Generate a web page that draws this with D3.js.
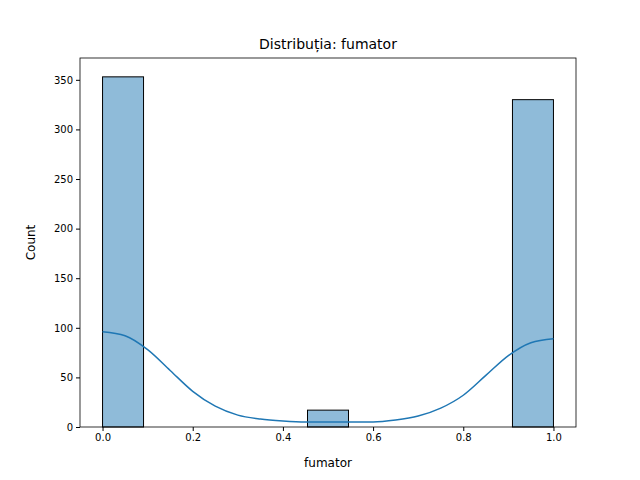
<!DOCTYPE html>
<html><head><meta charset="utf-8">
<script src="https://cdn.jsdelivr.net/npm/d3@7"></script>
<style>body{margin:0;background:#fff}text{font-family:"DejaVu Sans",sans-serif}</style>
</head><body>
<script>
// histogram bins (11 bins over 0..1) and counts
var binEdges = d3.range(12).map(function (i) { return i / 11; });
var counts = [353, 0, 0, 0, 0, 17, 0, 0, 0, 0, 330];
// kde curve
var kdeX = [0, .05, .1, .15, .2, .25, .3, .35, .4, .45, .5, .55, .6, .65, .7, .75, .8, .85, .9, .95, 1];
var kdeY = [96, 92, 78, 57, 36, 21, 12, 8, 6, 5, 5, 5, 5, 7, 11, 19, 32, 52, 72, 85, 89];
var xTicks = [0, 0.2, 0.4, 0.6, 0.8, 1.0];
var yTicks = [0, 50, 100, 150, 200, 250, 300, 350];

var svg = d3.select("body").append("svg").attr("width", 640).attr("height", 480);
var L = 80, R = 576, T = 58, B = 427;
var x = d3.scaleLinear().domain([-0.05, 1.05]).range([L, R]);
var y = d3.scaleLinear().domain([0, 372]).range([B, T]);

//bars
svg.selectAll("rect.bar").data(counts.map(function (c, i) { return {c: c, i: i}; }).filter(function (d) { return d.c > 0; }))
    .enter().append("rect")
    .attr("x", function (d) { return x(binEdges[d.i]); })
    .attr("width", function (d) { return x(binEdges[d.i + 1]) - x(binEdges[d.i]); })
    .attr("y", function (d) { return y(d.c); })
    .attr("height", function (d) { return y(0) - y(d.c); })
    .attr("fill", "rgba(31,119,180,0.5)").attr("stroke", "#000").attr("stroke-width", 1);

//kde
var line = d3.line().x(function (d, i) { return x(kdeX[i]); }).y(function (d) { return y(d); }).curve(d3.curveMonotoneX);
svg.append("path").attr("d", line(kdeY)).attr("fill", "none").attr("stroke", "#1f77b4").attr("stroke-width", 1.5);

//axes
svg.append("g").attr("transform", "translate(0," + B + ")")
    .call(d3.axisBottom(x).tickValues(xTicks).tickFormat(d3.format(".1f")).tickSizeOuter(0).tickSize(4))
    .call(function (g) { g.selectAll("text").attr("font-size", 10).attr("fill", "#000"); g.select(".domain").remove(); });
svg.append("g").attr("transform", "translate(" + L + ",0)")
    .call(d3.axisLeft(y).tickValues(yTicks).tickSizeOuter(0).tickSize(4))
    .call(function (g) { g.selectAll("text").attr("font-size", 10).attr("fill", "#000"); g.select(".domain").remove(); });
svg.append("rect").attr("x", L).attr("y", T).attr("width", R - L).attr("height", B - T)
    .attr("fill", "none").attr("stroke", "#000").attr("stroke-width", 0.8);

svg.append("text").attr("x", (L + R) / 2).attr("y", 49).attr("text-anchor", "middle").attr("font-size", 14).text("Distribuția: fumator");
svg.append("text").attr("x", (L + R) / 2).attr("y", 467).attr("text-anchor", "middle").attr("font-size", 12).text("fumator");
svg.append("text").attr("transform", "translate(35," + (T + B) / 2 + ") rotate(-90)").attr("text-anchor", "middle").attr("font-size", 12).text("Count");
</script>
</body></html>
